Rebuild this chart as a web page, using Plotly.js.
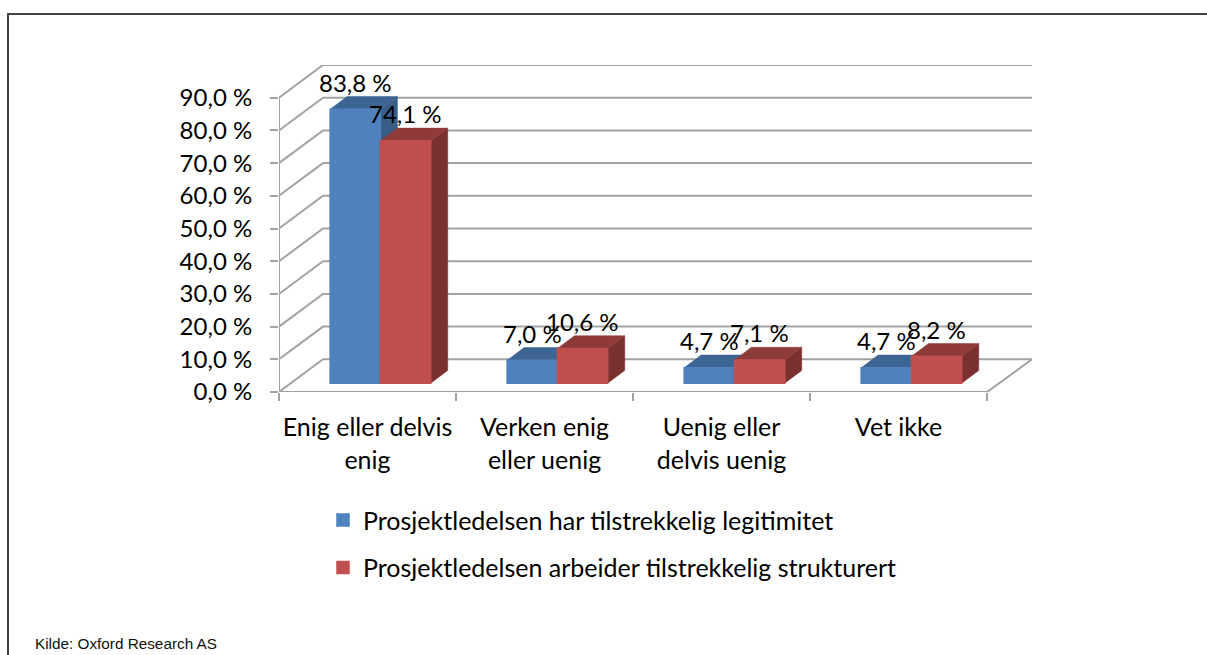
<!DOCTYPE html>
<html>
<head>
<meta charset="utf-8">
<script src="https://cdn.plot.ly/plotly-3.0.1.min.js"></script>
<style>
html,body{margin:0;padding:0;background:#fff;overflow:hidden}
#frame{position:absolute;left:7px;top:13px;width:1200px;height:642px;border-left:2px solid #444;border-top:2px solid #444;box-sizing:border-box}
#chart{position:absolute;left:0;top:0;width:1207px;height:655px}
</style>
</head>
<body>
<div id="frame"></div>
<div id="chart"></div>
<script>
const categories = ['Enig eller delvis<br>enig', 'Verken enig<br>eller uenig', 'Uenig eller<br>delvis uenig', 'Vet ikke'];
const seriesA = [83.8, 7.0, 4.7, 4.7];
const seriesB = [74.1, 10.6, 7.1, 8.2];
const nameA = 'Prosjektledelsen har tilstrekkelig legitimitet';
const nameB = 'Prosjektledelsen arbeider tilstrekkelig strukturert';
const yTicks = [0, 10, 20, 30, 40, 50, 60, 70, 80, 90];

const FONT = 'Lato, Carlito, sans-serif';
const XMAX = 4.254, YMAX = 100;
const floorDx = 0.2486, floorDy = 10;      // wall offset, axis units
const barDx = 0.096, barDy = 3.9, lift = 2.7, barW = 0.2842, groupC = 0.573;
const grid = '#a3a3a3';

const fmt = v => v.toFixed(1).replace('.', ',') + ' %';

// wall lines
const gx = [], gy = [];
yTicks.forEach(v => { gx.push(0, floorDx, XMAX, null); gy.push(v, v + floorDy, v + floorDy, null); });
gx.push(0, 0, null, 0, categories.length, XMAX); gy.push(0, 90, null, 0, 0, floorDy);

const line = (x, y, c, w) => ({type:'scatter', mode:'lines', x, y, xaxis:'x', yaxis:'y', showlegend:false, hoverinfo:'skip', line:{color:c, width:w}});
const face = (x, y, c) => ({type:'scatter', mode:'lines', x, y, xaxis:'x', yaxis:'y', fill:'toself', fillcolor:c, showlegend:false, hoverinfo:'skip', line:{color:c, width:0.5}});

function faces(vals, sign, topC, sideC) {
  const tx = [], ty = [], sx = [], sy = [];
  vals.forEach((v, i) => {
    const x0 = i + groupC + (sign < 0 ? -barW : 0), x1 = x0 + barW, t = lift + v;
    tx.push(x0, x0 + barDx, x1 + barDx, x1, x0, null);
    ty.push(t, t + barDy, t + barDy, t, t, null);
    sx.push(x1, x1 + barDx, x1 + barDx, x1, x1, null);
    sy.push(lift, lift + barDy, t + barDy, t, lift, null);
  });
  return [face(sx, sy, sideC), face(tx, ty, topC)];
}

const xc = categories.map((_, i) => i + groupC);
const bar = (name, vals, color, group) => ({type:'bar', name, x:xc, y:vals, base:vals.map(() => lift), xaxis:'x2', yaxis:'y2',
  marker:{color, line:{width:1.5, color}}, legendgroup:group, hoverinfo:'skip'});

const traces = [
  line(gx, gy, grid, 2),
  ...faces(seriesA, -1, '#3c6594', '#375d89'),
  ...faces(seriesB, 1, '#8e3a38', '#7a302e'),
  bar(nameA, seriesA, '#4f81bd', 'a'),
  bar(nameB, seriesB, '#c0504d', 'b')
];

const label = (vals, sign) => vals.map((v, i) => ({
  x: i + groupC + sign * barW / 2, y: lift + v, xref:'x2', yref:'y2', text: fmt(v), showarrow:false,
  yshift: 27, font:{family:FONT, size:24, color:'#000'}
}));

const layout = {
  width:1207, height:655, autosize:false,
  margin:{l:279, r:175, t:65, b:262.5, pad:0},
  paper_bgcolor:'rgba(0,0,0,0)', plot_bgcolor:'rgba(0,0,0,0)',
  showlegend:true,
  barmode:'group', bargap:0.4316, bargroupgap:0,
  xaxis:{range:[0, XMAX], showgrid:false, zeroline:false, showline:false, tickmode:'array',
    tickvals:categories.map((_, i) => i + 0.5), ticktext:categories, ticks:'', tickangle:0,
    ticklabelstandoff:18, tickfont:{family:FONT, size:25, color:'#000'},
    minor:{tickmode:'array', tickvals:[0, 1, 2, 3, 4], ticks:'outside', ticklen:8, tickwidth:2, tickcolor:grid, showgrid:false}},
  yaxis:{range:[0, YMAX], showgrid:false, zeroline:false, showline:false, tickmode:'array',
    tickvals:yTicks, ticktext:yTicks.map(fmt), ticks:'outside', ticklen:8, tickwidth:2, tickcolor:grid,
    ticklabelstandoff:13, tickfont:{family:FONT, size:24, color:'#000'}},
  xaxis2:{range:[0, XMAX], overlaying:'x', visible:false},
  yaxis2:{range:[0, YMAX], overlaying:'y', visible:false},
  legend:{x:(323 - 279) / 753, y:(392.5 - 498) / 327.5, xanchor:'left', yanchor:'top', orientation:'v', traceorder:'grouped',
    tracegroupgap:12, itemwidth:30, bgcolor:'rgba(0,0,0,0)', font:{family:FONT, size:25, color:'#000'}},
  annotations:[
    ...label(seriesA, -1), ...label(seriesB, 1),
    {xref:'paper', yref:'paper', x:(33 - 279) / 753, y:(392.5 - 644) / 327.5, xanchor:'left', yanchor:'middle', showarrow:false,
     text:'Kilde: Oxford Research AS', font:{family:'Liberation Sans, Arial, sans-serif', size:15.3, color:'#111'}}
  ]
};
Plotly.newPlot('chart', traces, layout, {staticPlot:true, displayModeBar:false});
</script>
</body>
</html>
